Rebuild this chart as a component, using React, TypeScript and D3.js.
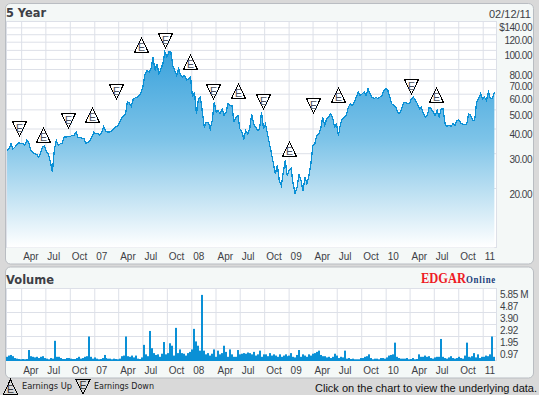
import React from "react";
import * as d3 from "d3";

const prices = [
31.1,31.7,33.7,31.7,32.4,33.4,34.3,33.7,33.9,33.2,35.0,34.3,31.1,30.5,30.0,29.8,28.8,30.2,32.4,32.8,30.5,29.8,27.2,24.2,31.7,35.0,33.0,33.7,33.9,36.7,36.4,36.7,36.7,37.1,37.1,38.6,36.1,36.4,35.7,35.7,33.7,34.3,35.0,36.4,38.6,37.8,38.1,37.1,38.6,41.2,39.0,38.6,38.6,39.0,40.1,40.9,41.2,42.9,45.0,46.9,47.4,54.7,54.1,52.0,56.9,57.5,58.0,59.1,61.5,66.5,76.2,79.2,77.7,80.7,92.5,79.2,85.6,76.2,80.7,85.6,98.1,92.5,98.1,98.1,83.9,79.2,74.7,80.7,74.7,73.3,74.7,70.5,71.9,73.3,58.0,61.5,47.8,56.9,58.0,48.7,40.9,43.3,43.3,40.1,44.2,54.7,48.7,49.6,47.8,50.6,46.9,48.7,53.7,52.6,52.6,43.3,45.9,46.9,40.1,38.6,35.7,39.3,37.8,40.1,47.8,42.5,40.9,39.3,40.1,48.7,40.1,42.5,37.8,33.7,
30.2,26.7,23.7,26.2,21.9,20.7,24.2,27.7,23.3,24.7,25.2,21.1,18.9,20.3,23.7,21.9,19.5,22.8,21.1,23.3,26.7,33.0,33.7,37.1,37.8,40.1,45.9,41.7,45.0,45.9,47.8,45.9,40.9,42.5,37.1,42.5,45.0,45.9,46.9,51.6,53.7,52.6,54.7,58.0,61.5,59.1,60.3,61.5,59.1,64.0,60.3,58.0,56.9,58.0,56.9,58.0,59.1,62.7,64.0,62.7,58.0,53.7,52.6,51.6,48.7,47.8,50.6,54.7,54.7,53.7,53.7,56.9,58.0,55.8,53.7,50.6,51.6,47.8,45.9,46.9,51.6,50.6,48.7,46.9,49.6,45.9,50.6,50.6,42.5,41.2,41.7,41.2,42.5,41.7,44.2,44.5,42.9,42.2,42.2,42.5,47.8,46.9,44.2,44.2,54.7,56.9,60.3,56.9,58.0,55.8,61.5,56.9,56.9,61.5,
];

const volumes = [
.3,.4,.45,.35,.2,.15,.12,.1,.12,.1,
.12,.85,.35,.3,.25,.3,.2,.3,.35,.2,
.15,.1,.2,.15,1.6,.3,.3,.2,.12,.12,
.2,.2,.15,.12,.12,.2,.3,.15,.2,.3,
.35,1.95,.3,.15,.25,.15,.1,.12,.2,.45,
.2,.15,.15,.1,.15,.12,.1,.15,.35,.4,
1.95,.35,.3,.4,.25,.4,.15,.12,.25,1.27,
.5,.35,2.4,1.0,.6,.45,.5,.3,.55,1.5,
.5,.6,1.4,1.2,.4,2.65,.6,.9,.6,.55,
.4,.6,.7,.9,2.57,1.55,1.2,.8,5.33,.8,
.5,.6,.4,.55,.9,.3,.8,.5,.6,1.2,
.7,.3,.9,.5,.3,.3,.85,.5,.55,.6,
.55,.65,.6,.5,.7,.4,.5,.8,.3,.5,
.5,.35,.6,.4,.5,.4,.3,.5,.3,.4,
.5,.35,.4,.6,.3,.25,.45,.85,.3,.5,
.4,.3,.5,.4,.55,.6,.7,.8,.45,.35,
.35,.25,.3,.2,.3,.55,.4,.2,.3,.25,
.8,.15,.2,.12,.15,.1,.1,.1,.2,.2,
.3,.35,.5,.2,.1,.15,.15,.1,.2,.2,
.15,.25,.4,.45,.5,1.45,.3,.2,.15,.15,
.15,.2,.1,.12,.2,.1,.12,.5,.3,.3,
.4,.3,.35,.2,.15,.25,.3,.3,1.75,.3,
.2,.15,.25,.35,.2,.15,.2,.3,.2,.15,
.4,1.45,.3,.25,.35,.6,.25,.5,.2,.3,
.3,.4,.35,.5,1.95,.3,
];

const priceGrid = [20, 30, 40, 50, 60, 70, 80, 90, 100, 110, 120, 130, 140];
const priceLabels = [20, 30, 40, 50, 60, 70, 80, 100, 120, 140];
const volumeTicks = [0.975, 1.95, 2.925, 3.9, 4.875, 5.85];
const volumeLabels = ["0.97", "1.95", "2.92", "3.90", "4.87", "5.85 M"];

const monthNames: Record<number, string> = { 0: "", 3: "Apr", 6: "Jul", 9: "Oct" };

const earnings: { date: Date; level: number; up: boolean }[] = [
  { date: new Date(2006, 2, 23), level: 40.3, up: false },
  { date: new Date(2006, 5, 21), level: 37.3, up: true },
  { date: new Date(2006, 8, 23), level: 44.5, up: false },
  { date: new Date(2006, 11, 23), level: 47.1, up: true },
  { date: new Date(2007, 2, 23), level: 62.3, up: false },
  { date: new Date(2007, 5, 25), level: 106.6, up: true },
  { date: new Date(2007, 8, 23), level: 113, up: false },
  { date: new Date(2007, 11, 26), level: 87.4, up: true },
  { date: new Date(2008, 2, 22), level: 62.3, up: false },
  { date: new Date(2008, 5, 24), level: 62.3, up: true },
  { date: new Date(2008, 8, 26), level: 55.5, up: false },
  { date: new Date(2009, 0, 1), level: 31.6, up: true },
  { date: new Date(2009, 3, 1), level: 52.9, up: false },
  { date: new Date(2009, 6, 4), level: 59.5, up: true },
  { date: new Date(2010, 3, 4), level: 66.1, up: false },
  { date: new Date(2010, 6, 6), level: 59.5, up: true },
];

const firstDate = new Date(2006, 1, 5);
const lastDate = new Date(2011, 1, 12);

const W = 539;
const H = 395;
const plotL = 6.5;
const plotR = 496.5;
const GRID = "#dde0e8";
const INK = "#3d3f46";
const BLUE = "#0a90d6";
const UI = "'Liberation Sans', Arial, sans-serif";
const HEAD = "'DejaVu Sans', sans-serif";

const x = d3.scaleTime().domain([new Date(2006, 1, 3), new Date(2011, 1, 20)]).range([plotL, plotR]);
const y = d3.scaleLog().domain([20, 140]).range([188.5, 21.5]);
const v = d3.scaleLinear().domain([0, 5.85]).range([360.5, 288.5]);

const dateAt = (i: number, n: number) =>
  new Date(+firstDate + ((+lastDate - +firstDate) * i) / (n - 1));

const priceRows = prices.map((p, i) => ({ date: dateAt(i, prices.length), p }));
const volRows = volumes.map((m, i) => ({ date: dateAt(i, volumes.length), m }));

const line = d3.line<{ date: Date; p: number }>().x((d) => x(d.date)).y((d) => y(d.p));
const area = d3
  .area<{ date: Date; p: number }>()
  .x((d) => x(d.date))
  .y0(247.5)
  .y1((d) => y(d.p));

const qTicks = d3.timeMonth.every(3)!.range(new Date(2006, 3, 1), new Date(2011, 1, 1));
const qLabel = (d: Date) =>
  d.getMonth() === 0 ? d3.timeFormat("%y")(d) : monthNames[d.getMonth()];

function Marker({ date, level, up }: { date: Date; level: number; up: boolean }) {
  const cx = Math.round(x(date)) + 0.5;
  const cy = Math.round(y(level)) + 0.5;
  const pts = up
    ? `${cx},${cy - 7.5} ${cx + 7},${cy + 7} ${cx - 7},${cy + 7}`
    : `${cx - 7},${cy - 7} ${cx + 7},${cy - 7} ${cx},${cy + 7.5}`;
  return (
    <g>
      <polygon points={pts} fill="#fff" stroke="#000" strokeWidth={1} shapeRendering="crispEdges" />
      <text x={cx} y={up ? cy + 5.5 : cy + 3} textAnchor="middle" fontFamily={UI} fontSize={10.5} fill="#4a4f5c">
        E
      </text>
    </g>
  );
}

function LegendMark({ cx, top, up }: { cx: number; top: number; up: boolean }) {
  const pts = up
    ? `${cx},${top} ${cx + 7},${top + 14.5} ${cx - 7},${top + 14.5}`
    : `${cx - 7},${top} ${cx + 7},${top} ${cx},${top + 14.5}`;
  return (
    <g>
      <polygon points={pts} fill="none" stroke="#000" strokeWidth={1} shapeRendering="crispEdges" />
      <text x={cx} y={up ? top + 13 : top + 9.5} textAnchor="middle" fontFamily={UI} fontSize={10.5} fill="#333">
        E
      </text>
    </g>
  );
}

function Panel({ top, bottom }: { top: number; bottom: number }) {
  return (
    <rect
      x={5.5}
      y={top}
      width={528}
      height={bottom - top}
      rx={5}
      fill="#f4f8f7"
      stroke="#b9bdc2"
      strokeWidth={1}
    />
  );
}

export default function App() {
  return (
    <svg
      width={W}
      height={H}
      viewBox={`0 0 ${W} ${H}`}
      style={{ position: "absolute", left: 0, top: 0, display: "block" }}
    >
      <defs>
        <linearGradient id="fade" gradientUnits="userSpaceOnUse" x1={0} x2={0} y1={50} y2={247}>
          <stop offset="0%" stopColor="#3aa2dc" />
          <stop offset="45%" stopColor="#7cc3e8" />
          <stop offset="75%" stopColor="#c3e3f3" />
          <stop offset="100%" stopColor="#ffffff" />
        </linearGradient>
      </defs>
      <rect width={W} height={H} fill="#d9d9d9" />
      <Panel top={3.5} bottom={264} />
      <Panel top={267} bottom={378} />

      <text x={6} y={17} fontFamily={HEAD} fontWeight="bold" fontSize={12} fill={INK} textLength={40} lengthAdjust="spacingAndGlyphs">
        5 Year
      </text>
      <text x={531} y={17.5} textAnchor="end" fontFamily={UI} fontSize={11} fill={INK}>
        02/12/11
      </text>

      <rect x={plotL} y={21.5} width={plotR - plotL} height={226} fill="#fff" stroke={GRID} />
      {priceGrid.map((p) => (
        <line key={p} x1={plotL} x2={plotR} y1={y(p)} y2={y(p)} stroke={GRID} />
      ))}
      {qTicks.map((d) => (
        <line key={+d} x1={x(d)} x2={x(d)} y1={21.5} y2={247.5} stroke={GRID} />
      ))}
      <path d={area(priceRows)!} fill="url(#fade)" />
      <path d={line(priceRows)!} fill="none" stroke={BLUE} strokeWidth={1.3} shapeRendering="crispEdges" />
      {earnings.map((e) => (
        <Marker key={+e.date} {...e} />
      ))}
      {priceLabels.map((p) => (
        <text key={p} x={532} y={y(p) + 9} textAnchor="end" fontFamily={UI} fontSize={10} letterSpacing={-0.5} fill={INK}>
          {p === 140 ? "$140.00" : `${p}.00`}
        </text>
      ))}
      {qTicks.map((d) => (
        <text key={+d} x={x(d) + 1.5} y={260} fontFamily={UI} fontSize={10} fill={INK}>
          {qLabel(d)}
        </text>
      ))}

      <text x={6} y={283.5} fontFamily={HEAD} fontWeight="bold" fontSize={12} fill={INK} textLength={48} lengthAdjust="spacingAndGlyphs">
        Volume
      </text>
      <text
        transform="translate(421,282.5) scale(0.89,1)"
        fontFamily="'Liberation Serif', serif"
        fontWeight="bold"
      >
        <tspan fontSize={14} fill="#ee1c25">EDGAR</tspan>
        <tspan fontSize={10} letterSpacing={0.8} fill="#1b3f7c">Online</tspan>
      </text>

      <rect x={plotL} y={288.5} width={plotR - plotL} height={72} fill="#fff" stroke={GRID} />
      {volumeTicks.map((t) => (
        <line key={t} x1={plotL} x2={plotR} y1={v(t)} y2={v(t)} stroke={GRID} />
      ))}
      {qTicks.map((d) => (
        <line key={+d} x1={x(d)} x2={x(d)} y1={288.5} y2={360.5} stroke={GRID} />
      ))}
      {volRows.map((r) => (
        <rect
          key={+r.date}
          x={Math.round(x(r.date)) - 1}
          width={2}
          y={v(r.m)}
          height={361 - v(r.m)}
          fill={BLUE}
        />
      ))}
      {volumeTicks.map((t, i) => (
        <text key={t} x={500} y={v(t) + 9} fontFamily={UI} fontSize={10} letterSpacing={-0.4} fill={INK}>
          {volumeLabels[i]}
        </text>
      ))}
      {qTicks.map((d) => (
        <text key={+d} x={x(d) + 1.5} y={374} fontFamily={UI} fontSize={10} fill={INK}>
          {qLabel(d)}
        </text>
      ))}

      <LegendMark cx={10.5} top={379.5} up />
      <text x={22} y={389} fontFamily={HEAD} fontSize={8.5} fill="#222" textLength={50} lengthAdjust="spacingAndGlyphs">
        Earnings Up
      </text>
      <LegendMark cx={83} top={379.5} up={false} />
      <text x={94} y={389} fontFamily={HEAD} fontSize={8.5} fill="#222" textLength={60} lengthAdjust="spacingAndGlyphs">
        Earnings Down
      </text>
      <text x={537} y={391.5} textAnchor="end" fontFamily={UI} fontSize={11} fill="#111">
        Click on the chart to view the underlying data.
      </text>
    </svg>
  );
}
